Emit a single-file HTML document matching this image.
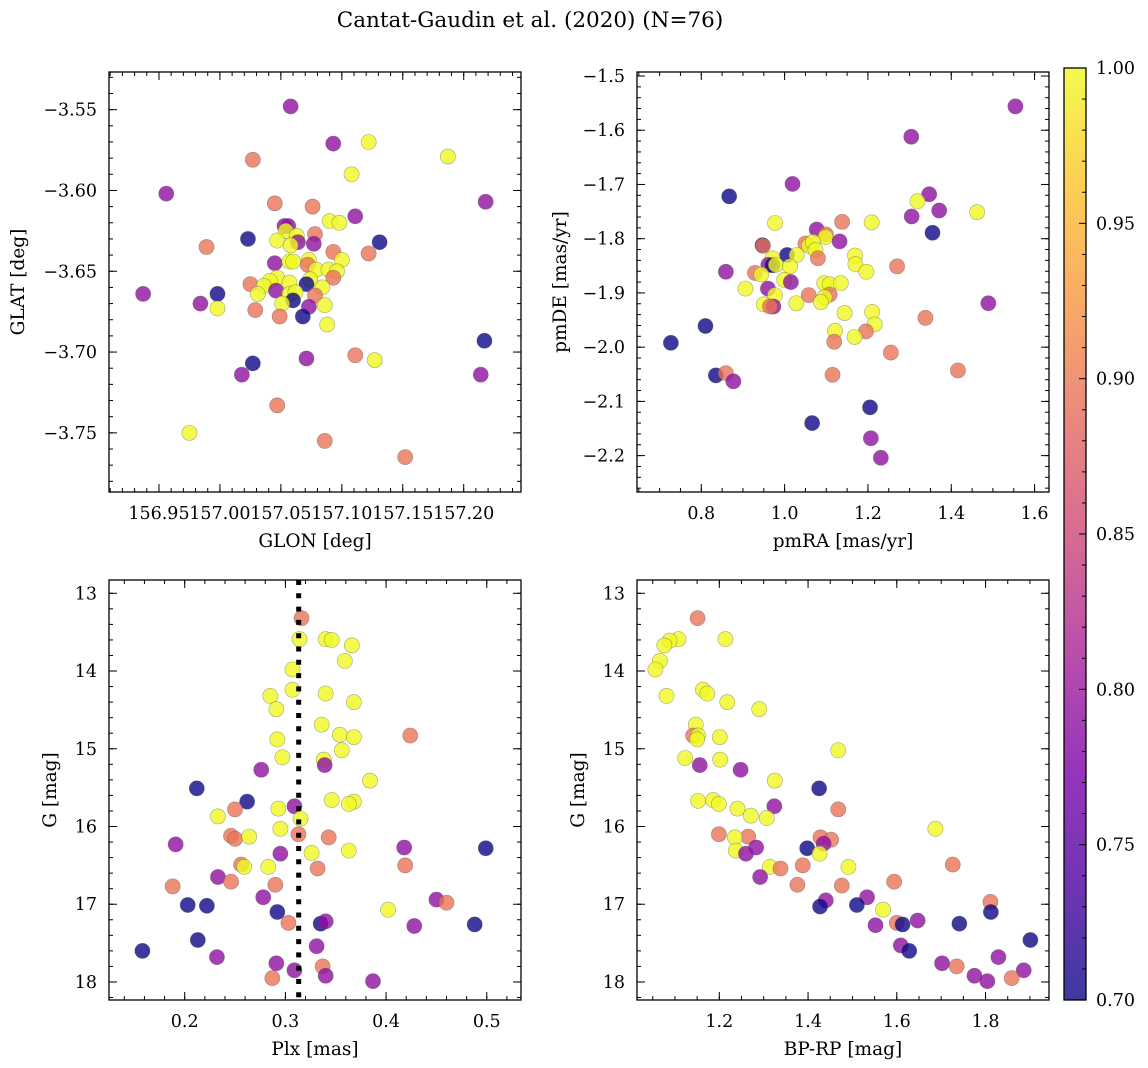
<!DOCTYPE html>
<html><head><meta charset="utf-8"><style>
body{margin:0;background:#fff;}
svg{display:block;font-family:"DejaVu Serif","Liberation Serif",serif;}
</style></head><body>
<svg id="fig" width="1148" height="1068" viewBox="0 0 1148 1068" xmlns="http://www.w3.org/2000/svg">
<rect width="1148" height="1068" fill="#fff"/>
<text x="530" y="27" font-size="21.5" text-anchor="middle">Cantat-Gaudin et al. (2020) (N=76)</text>
<defs><linearGradient id="cbg" x1="0" y1="1" x2="0" y2="0"></linearGradient></defs>
</svg>
<script>
// ---------- data ----------
const B=0.70,P=0.79,O=0.895,Y=1.0;
const glon=[157.058,157.093,157.122,157.187,157.027,157.108,156.956,157.218,157.045,157.076,157.111,157.090,157.098,157.053,157.056,157.054,157.063,157.023,157.047,157.064,157.078,157.077,157.058,157.131,156.989,157.093,157.122,157.100,157.073,157.045,157.057,157.060,157.072,157.079,157.089,157.096,157.093,157.074,157.047,157.041,157.025,157.036,157.057,157.071,157.084,157.046,156.937,157.031,156.998,157.057,157.062,157.078,157.060,157.051,156.984,157.086,157.073,156.998,157.029,157.068,157.049,157.088,157.217,157.071,157.111,157.127,157.027,157.018,157.214,157.047,156.975,157.086,157.152];
const glat=[-3.548,-3.571,-3.570,-3.579,-3.581,-3.590,-3.602,-3.607,-3.608,-3.610,-3.616,-3.619,-3.620,-3.622,-3.622,-3.625,-3.628,-3.630,-3.631,-3.632,-3.627,-3.633,-3.634,-3.632,-3.635,-3.638,-3.639,-3.643,-3.643,-3.645,-3.644,-3.644,-3.646,-3.649,-3.649,-3.650,-3.654,-3.655,-3.654,-3.656,-3.658,-3.659,-3.657,-3.658,-3.660,-3.662,-3.664,-3.664,-3.664,-3.664,-3.663,-3.665,-3.668,-3.670,-3.670,-3.671,-3.672,-3.673,-3.674,-3.678,-3.678,-3.683,-3.693,-3.704,-3.702,-3.705,-3.707,-3.714,-3.714,-3.733,-3.750,-3.755,-3.765];
const prob1=[P,P,Y,Y,O,Y,P,P,O,O,P,Y,Y,P,P,Y,Y,B,Y,P,O,P,Y,B,O,O,O,Y,Y,P,Y,Y,O,Y,Y,Y,O,Y,Y,Y,O,Y,Y,B,Y,P,P,Y,B,Y,Y,O,B,Y,P,Y,P,Y,O,B,O,Y,B,P,O,Y,B,P,P,O,Y,O,O];

const pmra=[1.554,1.304,1.019,0.867,1.347,1.319,1.371,1.462,1.305,0.977,1.138,1.209,1.355,1.077,1.099,1.098,1.132,0.947,0.948,1.050,1.058,1.068,1.074,1.006,1.029,1.080,0.971,1.169,0.961,0.971,0.979,1.013,1.170,1.270,1.196,0.859,0.929,0.944,0.999,1.015,1.095,1.108,1.135,0.906,0.960,1.058,1.108,1.096,0.977,1.489,0.950,0.973,0.965,1.028,1.087,1.144,1.210,1.338,1.216,0.810,1.121,1.195,1.168,1.119,0.727,1.255,1.416,0.835,0.859,1.115,0.877,1.205,1.066,1.207,1.231];
const pmde=[-1.556,-1.612,-1.699,-1.722,-1.718,-1.731,-1.748,-1.751,-1.759,-1.771,-1.769,-1.770,-1.789,-1.783,-1.792,-1.797,-1.805,-1.812,-1.813,-1.809,-1.813,-1.806,-1.821,-1.830,-1.830,-1.836,-1.836,-1.831,-1.848,-1.849,-1.848,-1.851,-1.847,-1.851,-1.861,-1.861,-1.863,-1.866,-1.876,-1.880,-1.882,-1.884,-1.882,-1.892,-1.892,-1.904,-1.903,-1.908,-1.904,-1.919,-1.921,-1.925,-1.925,-1.919,-1.917,-1.937,-1.935,-1.946,-1.958,-1.961,-1.970,-1.971,-1.981,-1.990,-1.992,-2.010,-2.043,-2.052,-2.048,-2.051,-2.063,-2.111,-2.140,-2.168,-2.204];
const prob2=[P,P,P,B,P,Y,P,Y,P,Y,O,Y,B,P,O,Y,P,B,O,O,Y,Y,Y,B,Y,O,Y,Y,P,B,Y,Y,Y,O,Y,P,O,Y,Y,P,Y,Y,Y,Y,P,O,O,Y,Y,P,Y,P,O,Y,Y,Y,Y,O,Y,B,Y,O,Y,O,B,O,O,B,O,O,P,B,B,P,P];

const plx=[0.316,0.314,0.340,0.346,0.366,0.359,0.307,0.307,0.285,0.340,0.368,0.291,0.336,0.354,0.368,0.424,0.292,0.356,0.297,0.338,0.339,0.276,0.212,0.384,0.262,0.346,0.368,0.363,0.309,0.250,0.293,0.233,0.315,0.295,0.313,0.246,0.250,0.264,0.343,0.191,0.295,0.326,0.363,0.418,0.499,0.256,0.259,0.283,0.332,0.419,0.233,0.246,0.188,0.290,0.278,0.203,0.222,0.450,0.460,0.402,0.292,0.303,0.335,0.340,0.428,0.488,0.213,0.158,0.331,0.232,0.291,0.337,0.309,0.340,0.287,0.387];
const gmag3=[13.32,13.59,13.59,13.60,13.67,13.87,13.98,14.24,14.32,14.29,14.40,14.49,14.69,14.82,14.85,14.83,14.88,15.02,15.11,15.14,15.21,15.27,15.51,15.41,15.68,15.66,15.68,15.71,15.74,15.78,15.77,15.87,15.90,16.03,16.10,16.12,16.16,16.13,16.14,16.23,16.35,16.34,16.31,16.27,16.28,16.49,16.52,16.52,16.54,16.50,16.65,16.71,16.77,16.75,16.91,17.01,17.02,16.94,16.98,17.07,17.10,17.24,17.25,17.22,17.28,17.26,17.46,17.60,17.54,17.68,17.76,17.80,17.85,17.92,17.95,17.99];
const prob3=[O,Y,Y,Y,Y,Y,Y,Y,Y,Y,Y,Y,Y,Y,Y,O,Y,Y,Y,Y,P,P,B,Y,B,Y,Y,Y,P,O,Y,Y,Y,Y,O,O,O,Y,O,P,P,Y,Y,P,B,O,Y,Y,O,O,P,O,O,O,P,B,B,P,O,Y,B,O,B,P,P,B,B,B,P,P,P,O,P,P,O,P];
const plxCut=0.3132;

const bprp=[1.151,1.214,1.108,1.088,1.076,1.066,1.056,1.163,1.173,1.081,1.218,1.290,1.147,1.141,1.152,1.150,1.201,1.468,1.123,1.202,1.156,1.248,1.325,1.425,1.152,1.186,1.199,1.324,1.468,1.241,1.271,1.307,1.687,1.199,1.265,1.235,1.428,1.452,1.435,1.398,1.283,1.237,1.260,1.426,1.726,1.388,1.314,1.338,1.491,1.292,1.594,1.376,1.476,1.533,1.440,1.811,1.427,1.510,1.812,1.569,1.552,1.600,1.613,1.647,1.741,1.901,1.609,1.628,1.829,1.702,1.735,1.775,1.886,1.804,1.859];
const gmag4=[13.32,13.59,13.59,13.61,13.67,13.87,13.98,14.24,14.29,14.32,14.40,14.49,14.69,14.83,14.83,14.88,14.85,15.02,15.12,15.14,15.21,15.27,15.41,15.51,15.67,15.66,15.71,15.74,15.78,15.77,15.86,15.89,16.03,16.10,16.13,16.14,16.14,16.17,16.22,16.28,16.27,16.31,16.35,16.35,16.49,16.50,16.52,16.54,16.52,16.65,16.71,16.75,16.76,16.91,16.95,16.97,17.03,17.01,17.10,17.07,17.27,17.24,17.26,17.21,17.25,17.46,17.53,17.60,17.68,17.76,17.80,17.92,17.85,17.99,17.95];
const prob4=[O,Y,Y,Y,Y,Y,Y,Y,Y,Y,Y,Y,Y,O,Y,Y,Y,Y,Y,Y,P,P,Y,B,Y,Y,Y,P,O,Y,Y,Y,Y,O,O,Y,O,O,P,B,P,Y,P,Y,O,O,Y,O,Y,P,O,O,O,P,P,O,B,B,B,Y,P,O,B,P,B,B,P,B,P,P,O,P,P,P,O];

const cbTicks=[0.70,0.75,0.80,0.85,0.90,0.95,1.00];

// ---------- helpers ----------
const NS="http://www.w3.org/2000/svg";
const svg=document.getElementById('fig');
function el(tag,attrs,parent){const e=document.createElementNS(NS,tag);for(const k in attrs)e.setAttribute(k,attrs[k]);(parent||svg).appendChild(e);return e;}
const plasma=[[13,8,135],[76,2,161],[126,3,168],[169,35,149],[204,71,120],[229,107,93],[248,148,65],[253,195,40],[240,249,33]];
function cmap(v){let t=(v-0.7)/0.3;t=Math.max(0,Math.min(1,t));const s=t*8,i=Math.min(7,Math.floor(s)),f=s-i;const a=plasma[i],b=plasma[i+1];return 'rgb('+[0,1,2].map(k=>Math.round(a[k]+(b[k]-a[k])*f)).join(',')+')';}
function fmt(v,d){return (v<0?'\u2212':'')+Math.abs(v).toFixed(d);}

function panel(o){
  const g=el('g',{});
  
  
  const sx=v=>o.x0+(v-o.xmin)/(o.xmax-o.xmin)*(o.x1-o.x0);
  const sy=v=>o.inv? o.y0+(v-o.ymin)/(o.ymax-o.ymin)*(o.y1-o.y0) : o.y1-(v-o.ymin)/(o.ymax-o.ymin)*(o.y1-o.y0);
  const clip='clip-'+o.name;
  const cp=el('clipPath',{id:clip},g);el('rect',{x:o.x0,y:o.y0,width:o.x1-o.x0,height:o.y1-o.y0},cp);
  const pts=el('g',{'clip-path':'url(#'+clip+')'},g);
  
  
  for(let i=0;i<o.xs.length;i++){
    const c=el('circle',{cx:sx(o.xs[i]),cy:sy(o.ys[i]),r:7.6,fill:cmap(o.ps[i]),'fill-opacity':0.8,stroke:'#555','stroke-opacity':0.5,'stroke-width':0.6},pts);
    
    
  }
  if(o.vline!==undefined){
    const l=el('line',{x1:sx(o.vline),x2:sx(o.vline),y1:o.y0,y2:o.y1,stroke:'#000','stroke-width':5,'stroke-dasharray':'5,8.3'},g);
    
    
  }
  const fr=el('rect',{x:o.x0,y:o.y0,width:o.x1-o.x0,height:o.y1-o.y0,fill:'none',stroke:'#000','stroke-width':1.3},g);
  
  
  const tk=el('g',{stroke:'#000','stroke-width':1},g);
  const eps=1e-9;
  function xt(step,len){const s=Math.ceil(o.xmin/step-eps);for(let k=s;k*step<=o.xmax+eps;k++){const X=sx(k*step);el('line',{x1:X,x2:X,y1:o.y1,y2:o.y1-len},tk);el('line',{x1:X,x2:X,y1:o.y0,y2:o.y0+len},tk);}}
  function yt(step,len){const lo=Math.min(o.ymin,o.ymax),hi=Math.max(o.ymin,o.ymax);const s=Math.ceil(lo/step-eps);for(let k=s;k*step<=hi+eps;k++){const Yp=sy(k*step);el('line',{x1:o.x0,x2:o.x0+len,y1:Yp,y2:Yp},tk);el('line',{x1:o.x1,x2:o.x1-len,y1:Yp,y2:Yp},tk);}}
  xt(o.xminor,4);xt(o.xmajor,8);yt(o.yminor,4);yt(o.ymajor,8);
  o.xticks.forEach(v=>{const t=el('text',{x:sx(v),y:o.y1+27,'font-size':17.5,'text-anchor':'middle'},g);t.textContent=fmt(v,o.xd);});
  o.yticks.forEach(v=>{const t=el('text',{x:o.x0-12,y:sy(v)+6,'font-size':17.5,'text-anchor':'end'},g);t.textContent=fmt(v,o.yd);});
  const xl=el('text',{x:(o.x0+o.x1)/2,y:o.y1+55,'font-size':18.5,'text-anchor':'middle'},g);xl.textContent=o.xlabel;
  
  const yc=(o.y0+o.y1)/2;
  const yl=el('text',{x:o.ylx,y:yc,'font-size':18.5,'text-anchor':'middle',transform:'rotate(-90 '+o.ylx+' '+yc+')'},g);yl.textContent=o.ylabel;
  
}

panel({name:'sky-position-panel',x0:109,x1:521,y0:72,y1:492,xmin:156.909,xmax:157.247,ymin:-3.7866,ymax:-3.5267,
  xs:glon,ys:glat,ps:prob1,xmajor:0.05,xminor:0.01,ymajor:0.05,yminor:0.01,
  xticks:[156.95,157.00,157.05,157.10,157.15,157.20],xd:2,yticks:[-3.55,-3.60,-3.65,-3.70,-3.75],yd:2,
  xlabel:'GLON [deg]',ylabel:'GLAT [deg]',ylx:24});
panel({name:'proper-motion-panel',x0:637,x1:1049,y0:72,y1:492,xmin:0.6457,xmax:1.6346,ymin:-2.2671,ymax:-1.4926,
  xs:pmra,ys:pmde,ps:prob2,xmajor:0.2,xminor:0.05,ymajor:0.1,yminor:0.02,
  xticks:[0.8,1.0,1.2,1.4,1.6],xd:1,yticks:[-1.5,-1.6,-1.7,-1.8,-1.9,-2.0,-2.1,-2.2],yd:1,
  xlabel:'pmRA [mas/yr]',ylabel:'pmDE [mas/yr]',ylx:566});
panel({name:'parallax-magnitude-panel',x0:109,x1:521,y0:580,y1:1000,xmin:0.1248,xmax:0.534,ymin:12.829,ymax:18.232,inv:true,
  xs:plx,ys:gmag3,ps:prob3,vline:plxCut,xmajor:0.1,xminor:0.02,ymajor:1,yminor:0.2,
  xticks:[0.2,0.3,0.4,0.5],xd:1,yticks:[13,14,15,16,17,18],yd:0,
  xlabel:'Plx [mas]',ylabel:'G [mag]',ylx:56});
panel({name:'color-magnitude-panel',x0:637,x1:1049,y0:580,y1:1000,xmin:1.0145,xmax:1.943,ymin:12.829,ymax:18.232,inv:true,
  xs:bprp,ys:gmag4,ps:prob4,xmajor:0.2,xminor:0.05,ymajor:1,yminor:0.2,
  xticks:[1.2,1.4,1.6,1.8],xd:1,yticks:[13,14,15,16,17,18],yd:0,
  xlabel:'BP-RP [mag]',ylabel:'G [mag]',ylx:584});

// colorbar
const grad=document.getElementById('cbg');
for(let i=0;i<=16;i++){const v=0.7+0.3*i/16;el('stop',{offset:(i/16),'stop-color':cmap(v),'stop-opacity':0.8},grad);}
const cb=el('g',{});


const cx0=1064,cx1=1086,cy0=68,cy1=1000;
const cy=v=>cy1-(v-0.7)/0.3*(cy1-cy0);
el('rect',{x:cx0,y:cy0,width:cx1-cx0,height:cy1-cy0,fill:'url(#cbg)',stroke:'#000','stroke-width':1.3},cb);
for(let k=70;k<=100;k++){const Y0=cy(k/100);const len=(k%5===0)?7:4;el('line',{x1:cx1,x2:cx1-len,y1:Y0,y2:Y0,stroke:'#000','stroke-width':1},cb);}
cbTicks.forEach(v=>{const t=el('text',{x:cx1+10,y:cy(v)+6,'font-size':17.5},cb);t.textContent=v.toFixed(2);});
</script>
</body></html>
